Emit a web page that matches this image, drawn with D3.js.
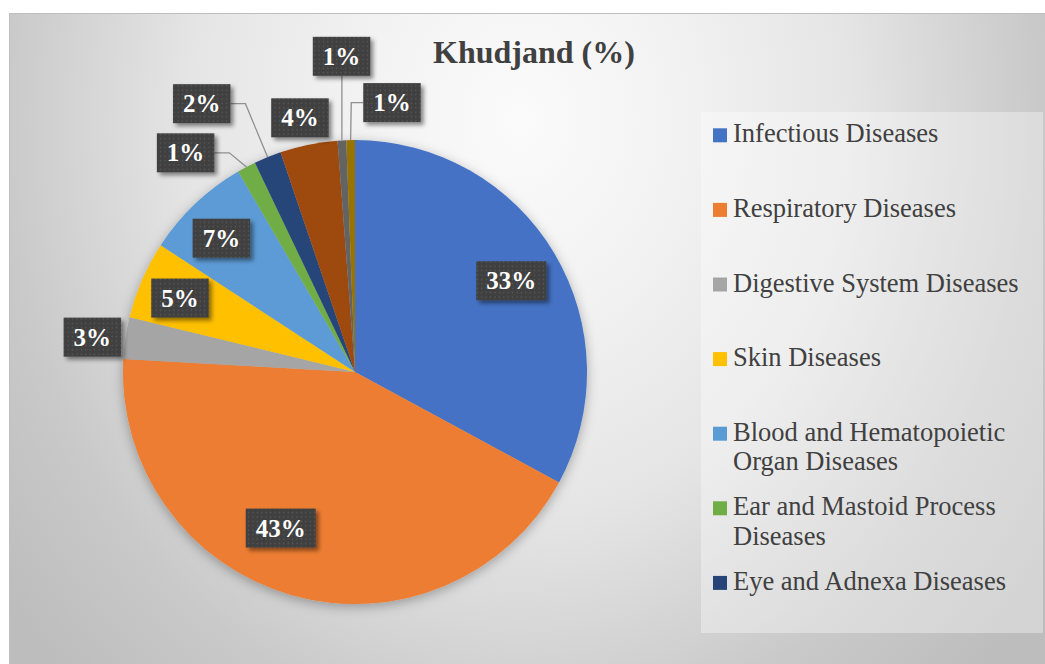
<!DOCTYPE html>
<html>
<head>
<meta charset="utf-8">
<script src="https://cdn.jsdelivr.net/npm/d3@7"></script>
<style>
  html, body { margin: 0; padding: 0; background: #ffffff; }
  svg { display: block; }
</style>
</head>
<body>
<svg id="chart" width="1045" height="664"></svg>
<script>
// ---- data ----
const chartTitle = "Khudjand (%)";
const categories = [
  "Infectious Diseases",
  "Respiratory Diseases",
  "Digestive System Diseases",
  "Skin Diseases",
  "Blood and Hematopoietic Organ Diseases",
  "Ear and Mastoid Process Diseases",
  "Eye and Adnexa Diseases",
  "Circulatory System Diseases",
  "Nervous System Diseases",
  "Other Diseases"
];
const shares = [32.9, 43.0, 2.9, 5.4, 7.4, 1.3, 1.9, 4.0, 0.6, 0.6];
const sliceColors = ["#4472C4", "#ED7D31", "#A5A5A5", "#FFC000", "#5B9BD5",
                     "#70AD47", "#264478", "#9E480E", "#636363", "#997300"];

// ---- label placement (angle shift in degrees from slice middle, distance in radii) ----
const labelShift = [0.5, 9.6, -0.9, -0.5, -1.4, -9.8, -7.6, -0.7, 0.8, 8.9];
const labelDist  = [0.78, 0.745, 1.142, 0.819, 0.815, 1.194, 1.332, 1.121, 1.362, 1.172];

// ---- layout ----
const W = 1045, H = 664;
const cx = 355, cy = 372, R = 232;
const serif = "'Liberation Serif', 'Times New Roman', serif";
const legendBox = { x: 701, y: 112, w: 342, h: 521 };

const svg = d3.select("#chart");
const defs = svg.append("defs");

// chart area background gradient
const bg = defs.append("radialGradient")
  .attr("id", "bgGrad")
  .attr("gradientUnits", "userSpaceOnUse")
  .attr("cx", 520).attr("cy", 120).attr("r", 650)
  .attr("gradientTransform", "translate(520,120) scale(1,1.2) translate(-520,-120)");
[[0, "#fbfbfb"], [0.25, "#f2f2f2"], [0.51, "#e5e5e5"], [0.8, "#c9c9c9"], [1, "#bdbdbd"]]
  .forEach(([o, c]) => bg.append("stop").attr("offset", o).attr("stop-color", c));

// dotted fill for the value boxes
const pat = defs.append("pattern")
  .attr("id", "dots").attr("patternUnits", "userSpaceOnUse")
  .attr("width", 4.4).attr("height", 4.4);
pat.append("rect").attr("width", 4.4).attr("height", 4.4).attr("fill", "#3f3f3f");
pat.append("circle").attr("cx", 2.2).attr("cy", 2.2).attr("r", 0.8).attr("fill", "#585858");

// shadows
defs.append("filter").attr("id", "pieShadow")
  .attr("x", "-20%").attr("y", "-20%").attr("width", "140%").attr("height", "140%")
  .append("feDropShadow")
  .attr("dx", 0).attr("dy", 3).attr("stdDeviation", 6)
  .attr("flood-color", "#000").attr("flood-opacity", 0.3);
defs.append("filter").attr("id", "boxShadow")
  .attr("x", "-30%").attr("y", "-30%").attr("width", "160%").attr("height", "160%")
  .append("feDropShadow")
  .attr("dx", 3).attr("dy", 3).attr("stdDeviation", 2)
  .attr("flood-color", "#000").attr("flood-opacity", 0.45);

// chart area
svg.append("rect")
  .attr("x", 9.5).attr("y", 13.5).attr("width", W).attr("height", H)
  .attr("fill", "url(#bgGrad)").attr("stroke", "#bfbfbf").attr("stroke-width", 1);

// title
svg.append("text")
  .attr("x", 534).attr("y", 63)
  .attr("text-anchor", "middle")
  .attr("font-family", serif).attr("font-weight", "bold").attr("font-size", 32)
  .attr("fill", "#404040")
  .text(chartTitle);

// ---- pie ----
const pie = d3.pie().sort(null).value(d => d);
const arcs = pie(shares);
const arc = d3.arc().innerRadius(0).outerRadius(R);

const pieG = svg.append("g")
  .attr("transform", `translate(${cx},${cy})`)
  .attr("filter", "url(#pieShadow)");
pieG.selectAll("path")
  .data(arcs)
  .join("path")
  .attr("d", arc)
  .attr("fill", (d, i) => sliceColors[i]);

// ---- data labels ----
const labelsG = svg.append("g");
const leadersG = labelsG.append("g");
const boxesG = labelsG.append("g");

arcs.forEach((d, i) => {
  const mid = (d.startAngle + d.endAngle) / 2;
  const a = mid + labelShift[i] * Math.PI / 180;
  const r = labelDist[i] * R;
  const lx = cx + r * Math.sin(a);
  const ly = cy - r * Math.cos(a);

  const g = boxesG.append("g");
  const txt = g.append("text")
    .attr("x", lx).attr("y", ly + 8.6)
    .attr("text-anchor", "middle")
    .attr("font-family", serif).attr("font-weight", "bold").attr("font-size", 25)
    .attr("fill", "#ffffff")
    .text(Math.round(d.data) + "%");
  const tw = txt.node().getComputedTextLength();
  const bw = tw + 20, bh = 39;
  const x0 = lx - bw / 2, y0 = ly - bh / 2, x1 = x0 + bw, y1 = y0 + bh;
  g.insert("rect", "text")
    .attr("x", x0).attr("y", y0).attr("width", bw).attr("height", bh)
    .attr("fill", "url(#dots)")
    .attr("filter", "url(#boxShadow)");

  // leader line from an outside box to the slice edge when the box sits away from it
  if (labelDist[i] <= 1) return;
  const px = cx + R * Math.sin(mid);
  const py = cy - R * Math.cos(mid);
  const gx = Math.max(x0 - px, 0, px - x1);
  const gy = Math.max(y0 - py, 0, py - y1);
  if (Math.hypot(gx, gy) > 10) {
    let pts;
    if (px >= x0 && px <= x1) {
      pts = [[px, py < y0 ? y0 : y1], [px, py]];
    } else if (px > x1) {
      pts = [[x1, ly], [x1 + 15, ly], [px, py]];
    } else {
      pts = [[x0, ly], [x0 - 12, ly], [px, py]];
    }
    leadersG.append("path")
      .attr("d", d3.line()(pts))
      .attr("fill", "none")
      .attr("stroke", "#8f8f8f")
      .attr("stroke-width", 1.3);
  }
});

// ---- legend ----
svg.append("rect")
  .attr("x", legendBox.x).attr("y", legendBox.y)
  .attr("width", legendBox.w).attr("height", legendBox.h)
  .attr("fill", "#ffffff").attr("fill-opacity", 0.35);

const legendG = svg.append("g");
const legendFont = 26.5, lineH = 29.7, rowStep = 74.6, firstBase = 142.3;
const textX = 733, maxW = 300;
const legendBottom = legendBox.y + legendBox.h;

categories.forEach((name, i) => {
  const base = firstBase + i * rowStep;
  // entries that do not fit inside the legend box are left out
  if (base + 8 > legendBottom) return;
  const row = legendG.append("g");
  row.append("rect")
    .attr("x", 713).attr("y", base - 14).attr("width", 14).attr("height", 14)
    .attr("fill", sliceColors[i]);
  const t = row.append("text")
    .attr("font-family", serif).attr("font-size", legendFont)
    .attr("fill", "#404040");
  // wrap words to the legend width
  const words = name.split(" ");
  let line = [], lineNo = 0;
  let ts = t.append("tspan").attr("x", textX).attr("y", base);
  words.forEach(w => {
    line.push(w);
    ts.text(line.join(" "));
    if (ts.node().getComputedTextLength() > maxW && line.length > 1) {
      line.pop();
      ts.text(line.join(" "));
      line = [w];
      lineNo += 1;
      ts = t.append("tspan").attr("x", textX).attr("y", base + lineNo * lineH).text(w);
    }
  });
});
</script>
</body>
</html>
